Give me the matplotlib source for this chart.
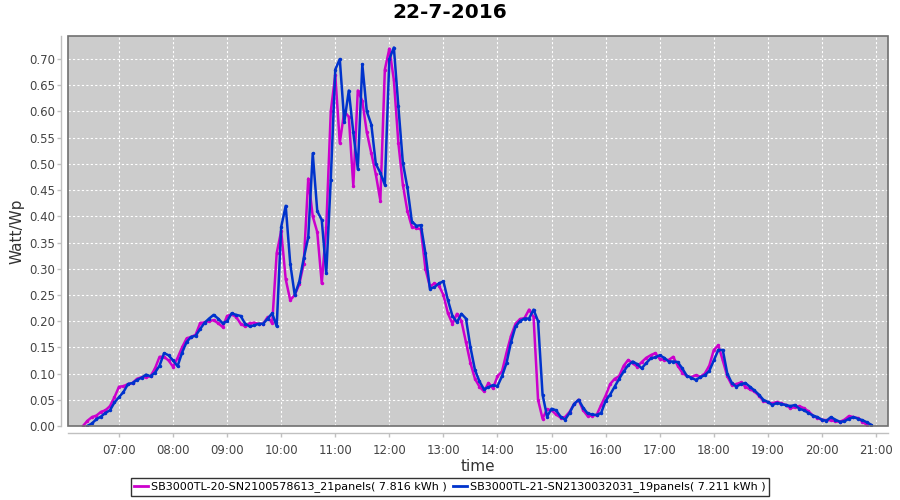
import matplotlib
matplotlib.use("Agg")
import matplotlib.pyplot as plt
from matplotlib.patches import Rectangle
import numpy as np

title = "22-7-2016"
series_names = ["SB3000TL-20-SN2100578613_21panels( 7.816 kWh )",
                "SB3000TL-21-SN2130032031_19panels( 7.211 kWh )"]
series_colors = ["#CC00CC", "#0033CC"]

hour_ticks = [7, 8, 9, 10, 11, 12, 13, 14, 15, 16, 17, 18, 19, 20, 21]
hour_labels = ["07:00", "08:00", "09:00", "10:00", "11:00", "12:00", "13:00",
               "14:00", "15:00", "16:00", "17:00", "18:00", "19:00", "20:00", "21:00"]
y_ticks = [0.00, 0.05, 0.10, 0.15, 0.20, 0.25, 0.30, 0.35, 0.40, 0.45, 0.50,
           0.55, 0.60, 0.65, 0.70]

# 5-minute samples; start times in hours
m_start = 6 + 20 / 60
m_values = [
    0.000, 0.010, 0.017, 0.020, 0.027, 0.030, 0.038, 0.055,            # 06:20-06:55
    0.075, 0.076, 0.080, 0.082, 0.090, 0.093, 0.093, 0.095, 0.110, 0.132, 0.132, 0.125,  # 07
    0.113, 0.130, 0.150, 0.167, 0.170, 0.174, 0.196, 0.198, 0.200, 0.202, 0.196, 0.189,  # 08
    0.210, 0.213, 0.208, 0.195, 0.190, 0.196, 0.197, 0.195, 0.195, 0.208, 0.196, 0.330,  # 09
    0.372, 0.280, 0.240, 0.250, 0.270, 0.310, 0.472, 0.400, 0.370, 0.272, 0.380, 0.600,  # 10
    0.670, 0.540, 0.600, 0.590, 0.458, 0.640, 0.620, 0.560, 0.520, 0.480, 0.430, 0.680,  # 11
    0.720, 0.660, 0.540, 0.460, 0.410, 0.380, 0.378, 0.375, 0.300, 0.266, 0.272, 0.268,  # 12
    0.250, 0.215, 0.195, 0.214, 0.200, 0.160, 0.120, 0.090, 0.075, 0.066, 0.082, 0.072,  # 13
    0.095, 0.104, 0.140, 0.172, 0.195, 0.204, 0.206, 0.222, 0.208, 0.050, 0.014, 0.032,  # 14
    0.030, 0.022, 0.016, 0.017, 0.027, 0.042, 0.050, 0.030, 0.019, 0.020, 0.021, 0.040,  # 15
    0.058, 0.080, 0.090, 0.095, 0.115, 0.126, 0.120, 0.113, 0.122, 0.130, 0.135, 0.139,  # 16
    0.128, 0.126, 0.126, 0.132, 0.115, 0.102, 0.095, 0.093, 0.097, 0.094, 0.100, 0.115,  # 17
    0.145, 0.154, 0.125, 0.095, 0.078, 0.080, 0.083, 0.075, 0.070, 0.066, 0.058, 0.048,  # 18
    0.045, 0.043, 0.046, 0.043, 0.040, 0.034, 0.036, 0.038, 0.034, 0.028, 0.020, 0.015,  # 19
    0.012, 0.011, 0.011, 0.009, 0.008, 0.012, 0.019, 0.017, 0.015, 0.008, 0.002,        # 20
]

b_start = 6 + 25 / 60
b_values = [
    0.000, 0.005, 0.013, 0.018, 0.025, 0.030, 0.045,                    # 06:25-06:55
    0.055, 0.065, 0.080, 0.082, 0.088, 0.092, 0.098, 0.095, 0.102, 0.115, 0.139, 0.135,  # 07
    0.125, 0.114, 0.140, 0.160, 0.170, 0.172, 0.185, 0.197, 0.205, 0.212, 0.205, 0.196,  # 08
    0.200, 0.215, 0.212, 0.210, 0.195, 0.190, 0.192, 0.195, 0.195, 0.205, 0.215, 0.190,  # 09
    0.380, 0.420, 0.310, 0.250, 0.275, 0.320, 0.360, 0.520, 0.410, 0.393, 0.291, 0.470,  # 10
    0.680, 0.700, 0.580, 0.640, 0.560, 0.490, 0.690, 0.600, 0.575, 0.500, 0.483, 0.460,  # 11
    0.700, 0.722, 0.610, 0.502, 0.455, 0.390, 0.382, 0.383, 0.330, 0.262, 0.265, 0.272,  # 12
    0.276, 0.240, 0.210, 0.198, 0.214, 0.205, 0.150, 0.107, 0.085, 0.070, 0.074, 0.078,  # 13
    0.076, 0.095, 0.120, 0.160, 0.190, 0.200, 0.205, 0.205, 0.222, 0.200, 0.060, 0.018,  # 14
    0.033, 0.030, 0.018, 0.012, 0.025, 0.042, 0.050, 0.035, 0.024, 0.022, 0.021, 0.025,  # 15
    0.048, 0.060, 0.075, 0.090, 0.104, 0.116, 0.123, 0.118, 0.110, 0.120, 0.129, 0.131,  # 16
    0.135, 0.130, 0.123, 0.123, 0.122, 0.110, 0.096, 0.092, 0.088, 0.093, 0.097, 0.105,  # 17
    0.125, 0.145, 0.145, 0.100, 0.082, 0.075, 0.080, 0.082, 0.075, 0.068, 0.060, 0.050,  # 18
    0.046, 0.040, 0.044, 0.042, 0.040, 0.038, 0.040, 0.033, 0.030, 0.025, 0.020, 0.017,  # 19
    0.012, 0.010, 0.017, 0.012, 0.008, 0.009, 0.014, 0.017, 0.014, 0.011, 0.007, 0.002,  # 20
]

step = 5 / 60
m_time = m_start + step * np.arange(len(m_values))
b_time = b_start + step * np.arange(len(b_values))

fig = plt.figure(figsize=(9, 5), dpi=100)
fig.patch.set_facecolor("white")
ax = fig.add_axes([68 / 900, 74 / 500, 820 / 900, 390 / 500])
ax.set_facecolor("#CCCCCC")

for t, v, name, c in [(m_time, m_values, series_names[0], series_colors[0]),
                      (b_time, b_values, series_names[1], series_colors[1])]:
    ax.plot(t, v, color=c, lw=1.8, label=name, marker="o", markersize=1.5,
            solid_joinstyle="round")

ax.set_xlim(6.057, 21.222)
ax.set_ylim(0, 0.744)
ax.set_xticks(hour_ticks)
ax.set_xticklabels(hour_labels)
ax.set_yticks(y_ticks)
ax.set_yticklabels([f"{v:.2f}" for v in y_ticks])
ax.grid(True, color="white", linestyle=(0, (2, 2)), linewidth=0.8)
ax.set_axisbelow(True)

for s in ["top", "right"]:
    ax.spines[s].set_visible(False)
for s in ["left", "bottom"]:
    ax.spines[s].set_position(("outward", 5))
    ax.spines[s].set_color("#C0C0C0")
    ax.spines[s].set_linewidth(1)
ax.add_patch(Rectangle((0, 0), 1, 1, transform=ax.transAxes, fill=False,
                       edgecolor="#707070", lw=1.2, clip_on=False, zorder=5))

ax.tick_params(axis="both", colors="#C0C0C0", labelcolor="#444444",
               labelsize=8.5, length=3, width=1)
ax.tick_params(axis="x", pad=5)
ax.tick_params(axis="y", pad=1.5)

ax.set_ylabel("Watt/Wp", fontsize=11, color="#333333")
ax.yaxis.set_label_coords(-0.053, 0.5)
ax.set_xlabel("time", fontsize=11, color="#333333")
ax.xaxis.set_label_coords(0.5, -0.085)
fig.suptitle(title, fontsize=14.5, fontweight="bold", y=0.995, x=0.5)

leg = fig.legend(loc="center", bbox_to_anchor=(0.5, 0.026), ncol=2,
                 fontsize=8, frameon=True, fancybox=False, handlelength=1.2,
                 handletextpad=0.3, columnspacing=0.6, borderpad=0.3,
                 borderaxespad=0)
leg.get_frame().set_edgecolor("black")
leg.get_frame().set_linewidth(1)
for line in leg.get_lines():
    line.set_marker("")
    line.set_linewidth(2)

fig.savefig("out.png", dpi=100)
